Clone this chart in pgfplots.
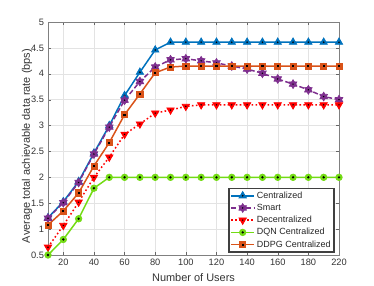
\documentclass[border=0pt]{standalone}
\usepackage{fontspec}
\setmainfont{Liberation Sans}
\usepackage{pgfplots}
\pgfplotsset{compat=1.18}
\definecolor{mblue}{rgb}{0,0.447,0.741}
\definecolor{mpurple}{rgb}{0.494,0.184,0.556}
\definecolor{mred}{rgb}{1,0,0}
\definecolor{mgreen}{rgb}{0.45,0.86,0.08}
\definecolor{morange}{rgb}{0.85,0.325,0.098}
\pgfdeclareplotmark{tridot}{\pgfuseplotmark{triangle*}\pgfscope\pgfsetfillcolor{black}\pgfpathcircle{\pgfpointorigin}{0.9pt}\pgfusepathqfill\endpgfscope}
\pgfdeclareplotmark{tridowndot}{\pgfscope\pgftransformrotate{180}\pgfuseplotmark{triangle*}\endpgfscope\pgfscope\pgfsetfillcolor{black}\pgfpathcircle{\pgfpointorigin}{0.8pt}\pgfusepathqfill\endpgfscope}
\pgfdeclareplotmark{circdot}{\pgfuseplotmark{*}\pgfscope\pgfsetfillcolor{black}\pgfpathcircle{\pgfpointorigin}{1.3pt}\pgfusepathqfill\endpgfscope}
\pgfdeclareplotmark{sqdot}{\pgfuseplotmark{square*}\pgfscope\pgfsetfillcolor{black}\pgfpathrectangle{\pgfpoint{-1.1pt}{-1.1pt}}{\pgfpoint{2.2pt}{2.2pt}}\pgfusepathqfill\endpgfscope}
\pgfdeclareplotmark{hexdot}{%
 \pgfpathmoveto{\pgfpointpolar{90}{\pgfplotmarksize}}%
 \pgfpathlineto{\pgfpointpolar{120}{0.6\pgfplotmarksize}}%
 \pgfpathlineto{\pgfpointpolar{150}{\pgfplotmarksize}}%
 \pgfpathlineto{\pgfpointpolar{180}{0.6\pgfplotmarksize}}%
 \pgfpathlineto{\pgfpointpolar{210}{\pgfplotmarksize}}%
 \pgfpathlineto{\pgfpointpolar{240}{0.6\pgfplotmarksize}}%
 \pgfpathlineto{\pgfpointpolar{270}{\pgfplotmarksize}}%
 \pgfpathlineto{\pgfpointpolar{300}{0.6\pgfplotmarksize}}%
 \pgfpathlineto{\pgfpointpolar{330}{\pgfplotmarksize}}%
 \pgfpathlineto{\pgfpointpolar{0}{0.6\pgfplotmarksize}}%
 \pgfpathlineto{\pgfpointpolar{30}{\pgfplotmarksize}}%
 \pgfpathlineto{\pgfpointpolar{60}{0.6\pgfplotmarksize}}%
 \pgfpathclose\pgfusepathqfillstroke
 \pgfscope\pgfsetfillcolor{black}\pgfpathcircle{\pgfpointorigin}{0.8pt}\pgfusepathqfill\endpgfscope}
\begin{document}
\begin{tikzpicture}
\useasboundingbox (0,0) rectangle (374bp,286bp);
\begin{axis}[
 at={(48bp,31bp)}, anchor=south west,
 scale only axis, width=291bp, height=233bp,
 xmin=10, xmax=200, ymin=0.5, ymax=5,
 xtick={20,40,60,80,100,120,140,160,180,200},
 xticklabels={20,40,60,80,100,120,140,160,180,220},
 ytick={0.5,1,1.5,2,2.5,3,3.5,4,4.5,5},
 yticklabels={0.5,1,1.5,2,2.5,3,3.5,4,4.5,5},
 tick align=inside, major tick length=3bp,
 grid=major, major grid style={gray!22, line width=0.4pt},
 axis line style={black!50, line width=0.5pt},
 tick style={black!60},
 every tick label/.append style={text=black!80, font=\fontsize{9.3}{10}\selectfont},
 xlabel={Number of Users},
 ylabel={Average total achievable data rate (bps)},
 label style={font=\fontsize{11}{12}\selectfont, text=black!80},
 xlabel style={at={(axis description cs:0.5,-0.099)}, anchor=center},
 ylabel style={at={(axis description cs:-0.072,0.468)}, anchor=center},
 /pgf/number format/assume math mode=true,
 legend cell align=left,
 legend style={at={(rel axis cs:0.986,0.009)}, anchor=south east, draw=black!75,
   font=\fontsize{9}{10.5}\selectfont, inner sep=1.5pt, row sep=0.3pt, text=black!85},
 legend image code/.code={\draw[mark repeat=2,mark phase=2] plot coordinates {(0bp,0bp) (11.5bp,0bp) (23bp,0bp)};},
 line width=1.5pt,
]
\addplot[mblue, mark=tridot, mark size=4.3pt, mark options={solid, fill=mblue, line width=0.7pt}] coordinates {
(10,1.22)(20,1.53)(30,1.92)(40,2.47)(50,3.0)(60,3.58)(70,4.03)(80,4.46)(90,4.61)(100,4.61)
(110,4.61)(120,4.61)(130,4.61)(140,4.61)(150,4.61)(160,4.61)(170,4.61)(180,4.61)(190,4.61)(200,4.61)};
\addlegendentry{Centralized}
\addplot[mpurple, dash pattern=on 5pt off 2.5pt, mark=hexdot, mark size=4.4pt, mark options={solid, fill=mpurple, line width=0.7pt}] coordinates {
(10,1.21)(20,1.51)(30,1.9)(40,2.45)(50,2.97)(60,3.49)(70,3.85)(80,4.13)(90,4.27)(100,4.29)
(110,4.25)(120,4.21)(130,4.15)(140,4.09)(150,4.01)(160,3.9)(170,3.8)(180,3.69)(190,3.56)(200,3.5)};
\addlegendentry{Smart}
\addplot[mred, dash pattern=on 1.6pt off 2.4pt, mark=tridowndot, mark size=4.3pt, mark options={solid, fill=mred, line width=0.7pt}] coordinates {
(10,0.65)(20,1.07)(30,1.52)(40,2.0)(50,2.39)(60,2.83)(70,3.03)(80,3.24)(90,3.3)(100,3.37)
(110,3.4)(120,3.4)(130,3.4)(140,3.4)(150,3.4)(160,3.4)(170,3.4)(180,3.4)(190,3.4)(200,3.4)};
\addlegendentry{Decentralized}
\addplot[mgreen, mark=circdot, mark size=3.3pt, mark options={solid, fill=mgreen, line width=0.7pt}] coordinates {
(10,0.5)(20,0.8)(30,1.2)(40,1.79)(50,2.0)(60,2.0)(70,2.0)(80,2.0)(90,2.0)(100,2.0)
(110,2.0)(120,2.0)(130,2.0)(140,2.0)(150,2.0)(160,2.0)(170,2.0)(180,2.0)(190,2.0)(200,2.0)};
\addlegendentry{DQN Centralized}
\addplot[morange, mark=sqdot, mark size=3.1pt, mark options={solid, fill=morange, line width=0.7pt}] coordinates {
(10,1.08)(20,1.35)(30,1.7)(40,2.22)(50,2.67)(60,3.21)(70,3.61)(80,4.02)(90,4.13)(100,4.15)
(110,4.15)(120,4.15)(130,4.15)(140,4.15)(150,4.15)(160,4.15)(170,4.15)(180,4.15)(190,4.15)(200,4.15)};
\addlegendentry{DDPG Centralized}
\node[anchor=base west, inner sep=0pt, yshift=2.5bp, text=black!80, font=\fontsize{9}{10}\selectfont] at (rel axis cs:0,1) {×10\textsuperscript{7}};
\end{axis}
\end{tikzpicture}
\end{document}
